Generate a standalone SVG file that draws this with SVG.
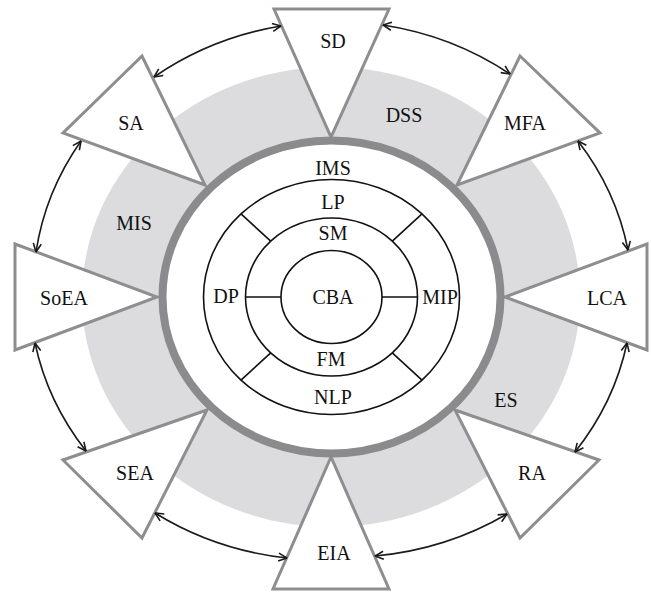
<svg xmlns="http://www.w3.org/2000/svg" width="651" height="592" viewBox="0 0 651 592">
<style>
.tri{fill:#fff;stroke:#8e8e91;stroke-width:3;stroke-linejoin:miter}
.ln{fill:none;stroke:#111;stroke-width:1.6}
.arc{fill:none;stroke:#1a1a1a;stroke-width:1.6;marker-start:url(#ah);marker-end:url(#ah)}
text{font-family:"Liberation Serif","Times New Roman",serif;font-size:20px;fill:#111;text-anchor:middle}
</style>
<defs>
<marker id="ah" viewBox="0 0 10 10" refX="9.5" refY="5" markerWidth="10" markerHeight="10" markerUnits="userSpaceOnUse" orient="auto-start-reverse">
<path d="M1,1 L9.5,5 L1,9" fill="none" stroke="#1a1a1a" stroke-width="1.6"/>
</marker>
</defs>
<rect width="651" height="592" fill="#fff"/>
<g id="background">
<ellipse cx="331" cy="297" rx="249" ry="230" fill="#dcdcde"/>
</g>
<g id="SD"><polygon class="tri" points="274,9 389,9 331,137"/><text x="333" y="48">SD</text></g>
<g id="MFA"><polygon class="tri" points="520,56 600,133 457,185"/><text x="525" y="130">MFA</text></g>
<g id="LCA"><polygon class="tri" points="647,244 647,350 505,297"/><text x="607" y="305">LCA</text></g>
<g id="RA"><polygon class="tri" points="455,410 599,460 520,538"/><text x="532" y="480">RA</text></g>
<g id="EIA"><polygon class="tri" points="331,457 273,589 389,589"/><text x="334" y="560">EIA</text></g>
<g id="SEA"><polygon class="tri" points="207,410 63,460 142,538"/><text x="135" y="480">SEA</text></g>
<g id="SoEA"><polygon class="tri" points="15,244 15,350 157,297"/><text x="64" y="305">SoEA</text></g>
<g id="SA"><polygon class="tri" points="142,56 63,133 205,185"/><text x="131" y="130">SA</text></g>
<g id="DSS"><text x="404" y="122">DSS</text></g>
<g id="MIS"><text x="134" y="230">MIS</text></g>
<g id="ES"><text x="506" y="407">ES</text></g>
<g id="IMS">
<ellipse cx="331.5" cy="297" rx="169" ry="156.5" fill="#fff" stroke="#8b8b8e" stroke-width="8"/>
<text x="333" y="175">IMS</text>
</g>
<g id="core">
<ellipse class="ln" cx="331.5" cy="297" rx="128" ry="117.5"/>
<ellipse class="ln" cx="331.5" cy="297" rx="86" ry="79"/>
<ellipse class="ln" cx="331.5" cy="297" rx="50.5" ry="46.5"/>
<path class="ln" d="M241,213.9 L270.7,241.1 M422,213.9 L392.3,241.1 M241,380.1 L270.7,352.9 M422,380.1 L392.3,352.9 M245.5,297 L281,297 M382,297 L417.5,297"/>
</g>
<g id="LP"><text x="333" y="209">LP</text></g>
<g id="SM"><text x="333" y="240">SM</text></g>
<g id="DP"><text x="226" y="303">DP</text></g>
<g id="CBA"><text x="333" y="304">CBA</text></g>
<g id="MIP"><text x="440" y="304">MIP</text></g>
<g id="FM"><text x="331" y="366">FM</text></g>
<g id="NLP"><text x="333" y="404">NLP</text></g>
<g id="connectors">
<path class="arc" d="M154,77 A300 275 0 0 1 281,26"/>
<path class="arc" d="M383,25 A300 275 0 0 1 510,74"/>
<path class="arc" d="M578,141 A300 275 0 0 1 628,250"/>
<path class="arc" d="M627,343 A300 275 0 0 1 575,452"/>
<path class="arc" d="M507,514 A300 275 0 0 1 375,556"/>
<path class="arc" d="M287,558 A300 275 0 0 1 155,513"/>
<path class="arc" d="M86,451 A300 275 0 0 1 35,343"/>
<path class="arc" d="M36,252 A300 275 0 0 1 81,141"/>
</g>
</svg>
